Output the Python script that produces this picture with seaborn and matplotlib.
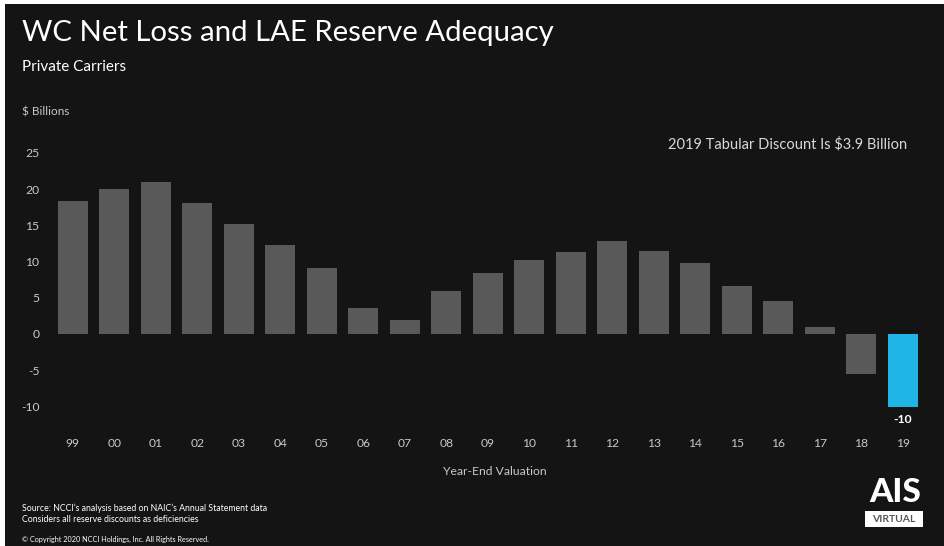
import matplotlib
matplotlib.use("Agg")
import matplotlib.pyplot as plt
import seaborn as sns
import pandas as pd
from matplotlib.patches import Rectangle

# data ($ billions)
years = ["99", "00", "01", "02", "03", "04", "05", "06", "07", "08", "09",
         "10", "11", "12", "13", "14", "15", "16", "17", "18", "19"]
adequacy = [18.3, 20.0, 21.0, 18.0, 15.2, 12.3, 9.1, 3.6, 2.0, 6.0, 8.4,
            10.2, 11.3, 12.8, 11.4, 9.8, 6.6, 4.6, 0.9, -5.5, -10.1]
yticks = [25, 20, 15, 10, 5, 0, -5, -10]

BG = "#141414"
GREY_BAR = "#595959"
BLUE = "#1fb6e6"
TXT = "#c8c8c8"

df = pd.DataFrame({"year": years, "value": adequacy})
colors = [GREY_BAR] * (len(years) - 1) + [BLUE]

sns.set_theme(style="dark")
plt.rcParams["font.family"] = ["Lato", "DejaVu Sans"]

W, H = 945, 546
fig = plt.figure(figsize=(W / 100, H / 100), dpi=100)
fig.patch.set_facecolor("white")
# dark slide area (thin white strip on top and left like the screenshot)
fig.patches.append(Rectangle((5 / W, 0), 1, (H - 4) / H, transform=fig.transFigure,
                             facecolor=BG, edgecolor="none", zorder=-5))

# axes in pixel layout
left, right, top, bottom = 45, 945, 140, 420
ax = fig.add_axes([left / W, 1 - bottom / H, (right - left) / W, (bottom - top) / H])
ax.set_facecolor("none")

sns.barplot(data=df, x="year", y="value", hue="year", palette=colors,
            legend=False, width=0.72, saturation=1, linewidth=0, ax=ax)

# x: first bar centre at 72.7px, step 41.5px ; y: zero at 334px, 7.25px per unit
ax.set_xlim((left - 72.7) / 41.5, (right - 72.7) / 41.5)
ax.set_ylim((334 - bottom) / 7.25, (334 - top) / 7.25)
ax.set_yticks(yticks)
ax.set_yticklabels([str(t) for t in yticks])
for s in ax.spines.values():
    s.set_visible(False)
ax.grid(False)
ax.tick_params(axis="both", length=0, colors=TXT, labelsize=8.7)
ax.tick_params(axis="x", pad=13)
ax.tick_params(axis="y", pad=4)
ax.set_xlabel("Year-End Valuation", color=TXT, fontsize=8.7, labelpad=12)
ax.set_ylabel("")

# value label under the 2019 bar
ax.annotate("-10", (len(years) - 1, adequacy[-1]), xytext=(0, -5),
            textcoords="offset points", ha="center", va="top",
            color="white", fontsize=8.7, fontweight="bold")

# titles and notes
fig.text(22 / W, 1 - 33 / H, "WC Net Loss and LAE Reserve Adequacy", color="white",
         fontsize=21.2, va="center", ha="left")
fig.text(22 / W, 1 - 67 / H, "Private Carriers", color="white",
         fontsize=11, va="center", ha="left")
fig.text(22 / W, 1 - 112 / H, "$ Billions", color=TXT,
         fontsize=8.5, va="center", ha="left")
fig.text(907 / W, 1 - 144 / H, "2019 Tabular Discount Is $3.9 Billion", color="#d8d8d8",
         fontsize=10.5, va="center", ha="right")

fig.text(22 / W, 1 - 508 / H, "Source: NCCI\u2019s analysis based on NAIC\u2019s Annual Statement data",
         color="white", fontsize=6.3, va="center", ha="left")
fig.text(22 / W, 1 - 520 / H, "Considers all reserve discounts as deficiencies",
         color="white", fontsize=6.3, va="center", ha="left")
fig.text(22 / W, 1 - 539 / H, "\u00a9 Copyright 2020 NCCI Holdings, Inc. All Rights Reserved.",
         color="white", fontsize=5.2, va="center", ha="left")

# AIS VIRTUAL logo
fig.text(895 / W, 1 - 493 / H, "AIS", color="white", fontsize=24,
         fontweight="black", va="center", ha="center")
fig.patches.append(Rectangle((865 / W, 1 - 527 / H), 58 / W, 16 / H,
                             transform=fig.transFigure, facecolor="white",
                             edgecolor="none", zorder=1))
fig.text(894 / W, 1 - 519.5 / H, "VIRTUAL", color="#555555", fontsize=7.5,
         fontweight="bold", va="center", ha="center", zorder=2)

fig.savefig("out.png", dpi=100, facecolor=fig.get_facecolor())
